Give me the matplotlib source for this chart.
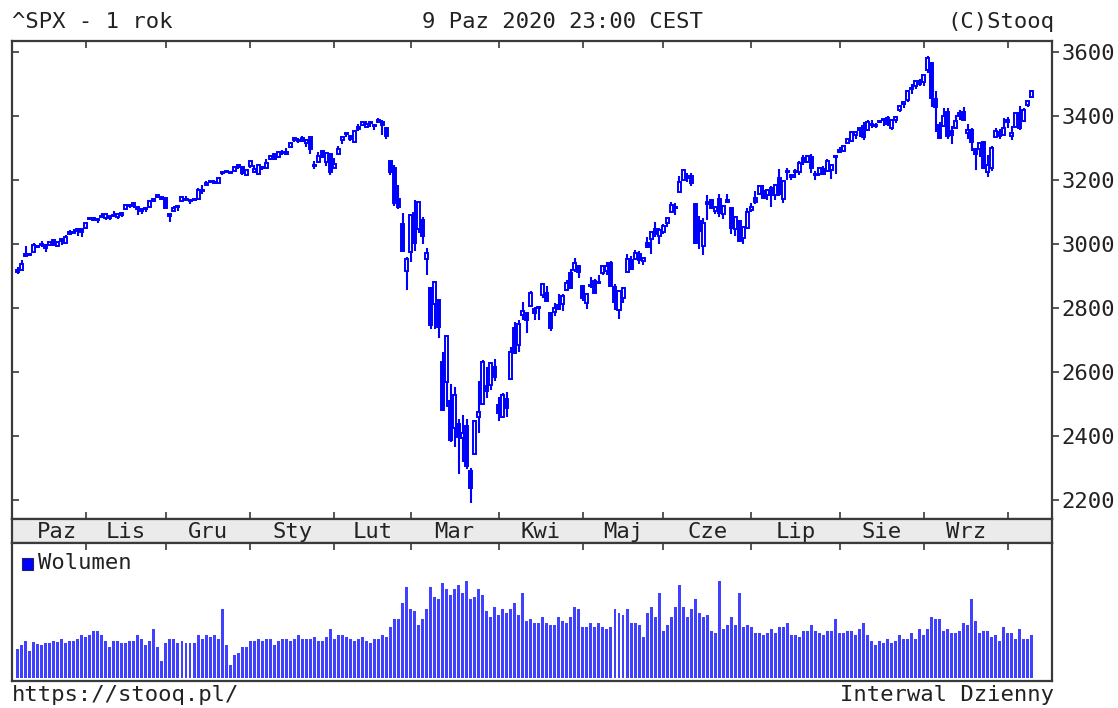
import numpy as np
import pandas as pd
import matplotlib
matplotlib.use("Agg")
import matplotlib.pyplot as plt
from matplotlib.patches import Rectangle

plt.rcParams['font.family'] = ['DejaVu Sans Mono']

# ============================================================
# Data: ^SPX daily candles, 9 Oct 2019 - 9 Oct 2020
# ============================================================
holidays = ['2019-11-28', '2019-12-25', '2020-01-01', '2020-01-20', '2020-02-17',
            '2020-04-10', '2020-05-25', '2020-07-03', '2020-09-07']
dates = pd.bdate_range('2019-10-09', '2020-10-09', freq='C', holidays=holidays)

open_ = [
    # Oct 2019
    2911, 2919, 2963, 2966, 2974, 2990, 3001, 2997, 2997, 3011, 2994, 3015, 3003, 3032, 3035, 3040, 3047,
    # Nov
    3051, 3079, 3081, 3075, 3087, 3081, 3080, 3089, 3084, 3091, 3108, 3118, 3128, 3115, 3109, 3111, 3117, 3135, 3146, 3147,
    # Dec
    3144, 3087, 3104, 3119, 3135, 3142, 3135, 3136, 3141, 3167, 3184, 3195, 3195, 3192, 3223, 3226, 3226, 3227, 3247, 3240, 3215,
    # Jan 2020
    3245, 3226, 3218, 3242, 3239, 3266, 3281, 3271, 3285, 3282, 3303, 3324, 3321, 3330, 3316, 3333, 3247, 3255, 3290, 3257, 3282,
    # Feb
    3236, 3281, 3325, 3345, 3336, 3318, 3366, 3371, 3366, 3378, 3369, 3380, 3381, 3361, 3258, 3239, 3140, 3063, 2917,
    # Mar
    2974, 3097, 3046, 3076, 2954, 2864, 2814, 2826, 2631, 2570, 2509, 2426, 2437, 2394, 2432, 2291, 2344, 2458, 2501, 2556, 2559, 2615,
    # Apr
    2498, 2459, 2515, 2578, 2739, 2685, 2777, 2783, 2805, 2796, 2799, 2842, 2846, 2785, 2788, 2810, 2813, 2855, 2910, 2919, 2931,
    # May
    2869, 2815, 2869, 2883, 2878, 2909, 2916, 2940, 2866, 2795, 2830, 2914, 2949, 2954, 2970, 2948, 3004, 3016, 3047, 3025,
    # Jun
    3039, 3065, 3099, 3112, 3164, 3200, 3213, 3213, 3124, 3071, 2994, 3131, 3136, 3102, 3140, 3094, 3139, 3114, 3047, 3073, 3019, 3050,
    # Jul
    3106, 3144, 3155, 3166, 3153, 3176, 3153, 3205, 3141, 3226, 3208, 3224, 3224, 3269, 3255, 3272, 3219, 3220, 3234, 3227, 3232, 3271,
    # Aug
    3288, 3290, 3317, 3323, 3340, 3356, 3370, 3355, 3373, 3369, 3381, 3387, 3393, 3361, 3386, 3418, 3436, 3450, 3485, 3495, 3510,
    # Sep
    3507, 3544, 3565, 3454, 3372, 3370, 3413, 3353, 3364, 3408, 3411, 3347, 3357, 3296, 3296, 3320, 3226, 3237, 3334, 3351, 3341,
    # Oct 2020
    3386, 3339, 3367, 3409, 3385, 3434, 3460,
]
high = [
    2929, 2949, 2993, 2973, 3003, 2998, 3008, 3000, 3007, 3015, 3005, 3016, 3027, 3044, 3048, 3050, 3047,
    3067, 3085, 3084, 3078, 3098, 3093, 3088, 3103, 3098, 3098, 3121, 3124, 3128, 3119, 3110, 3113, 3134, 3143, 3154, 3150,
    3144, 3095, 3119, 3119, 3151, 3149, 3142, 3144, 3176, 3183, 3198, 3198, 3199, 3206, 3226, 3228, 3226, 3240, 3248, 3241, 3232,
    3258, 3246, 3247, 3245, 3267, 3276, 3283, 3288, 3294, 3299, 3317, 3330, 3330, 3338, 3327, 3333, 3259, 3286, 3294, 3286, 3282,
    3268, 3307, 3338, 3348, 3341, 3352, 3376, 3382, 3385, 3381, 3375, 3394, 3389, 3361, 3260, 3247, 3183, 3097, 2960,
    3091, 3137, 3131, 3083, 2986, 2864, 2883, 2826, 2661, 2711, 2563, 2554, 2454, 2467, 2453, 2301, 2450, 2571, 2637, 2616, 2632, 2641,
    2523, 2533, 2538, 2677, 2757, 2761, 2819, 2783, 2852, 2802, 2807, 2879, 2869, 2786, 2815, 2845, 2843, 2888, 2921, 2955, 2931,
    2869, 2844, 2898, 2891, 2902, 2932, 2944, 2946, 2874, 2853, 2865, 2968, 2964, 2980, 2979, 2957, 3022, 3036, 3069, 3049,
    3062, 3081, 3131, 3129, 3212, 3233, 3223, 3223, 3124, 3088, 3080, 3154, 3141, 3120, 3156, 3121, 3155, 3115, 3086, 3074, 3054, 3112,
    3128, 3166, 3183, 3184, 3172, 3180, 3187, 3235, 3201, 3238, 3220, 3234, 3259, 3277, 3279, 3280, 3227, 3241, 3244, 3265, 3251, 3272,
    3303, 3307, 3331, 3351, 3353, 3363, 3381, 3388, 3387, 3379, 3388, 3395, 3400, 3391, 3400, 3432, 3444, 3481, 3501, 3509, 3515,
    3528, 3588, 3565, 3479, 3380, 3425, 3426, 3369, 3403, 3420, 3429, 3375, 3362, 3300, 3320, 3323, 3279, 3307, 3361, 3358, 3394,
    3397, 3369, 3410, 3432, 3426, 3447, 3482,
]
low = [
    2907, 2917, 2963, 2963, 2974, 2986, 2992, 2976, 2995, 2995, 2991, 2996, 3002, 3032, 3035, 3026, 3023,
    3051, 3075, 3072, 3066, 3080, 3074, 3076, 3085, 3079, 3083, 3105, 3112, 3114, 3091, 3095, 3099, 3117, 3131, 3143, 3139,
    3111, 3070, 3103, 3104, 3135, 3136, 3126, 3133, 3139, 3157, 3184, 3191, 3191, 3192, 3216, 3222, 3221, 3227, 3234, 3217, 3212,
    3236, 3222, 3215, 3232, 3237, 3264, 3261, 3268, 3277, 3281, 3303, 3319, 3317, 3320, 3302, 3282, 3235, 3253, 3272, 3243, 3215,
    3236, 3281, 3314, 3334, 3322, 3318, 3353, 3370, 3361, 3366, 3356, 3379, 3341, 3329, 3215, 3119, 3109, 2977, 2856,
    2945, 2977, 3034, 3000, 2902, 2734, 2734, 2707, 2479, 2492, 2381, 2367, 2281, 2320, 2296, 2192, 2344, 2408, 2501, 2520, 2545, 2571,
    2448, 2456, 2460, 2575, 2658, 2663, 2762, 2721, 2805, 2762, 2764, 2831, 2820, 2727, 2776, 2794, 2792, 2853, 2861, 2912, 2893,
    2822, 2798, 2864, 2848, 2877, 2903, 2903, 2870, 2793, 2767, 2817, 2914, 2922, 2954, 2939, 2934, 2988, 2970, 3023, 2999,
    3032, 3052, 3099, 3090, 3164, 3196, 3193, 3182, 3000, 2985, 2966, 3076, 3108, 3094, 3083, 3079, 3127, 3032, 3024, 3005, 3000, 3048,
    3101, 3125, 3155, 3143, 3137, 3116, 3136, 3149, 3128, 3201, 3199, 3206, 3215, 3248, 3253, 3223, 3200, 3214, 3216, 3227, 3204, 3220,
    3285, 3286, 3317, 3318, 3329, 3335, 3326, 3356, 3363, 3362, 3379, 3370, 3370, 3355, 3379, 3413, 3426, 3444, 3468, 3484, 3493,
    3495, 3535, 3427, 3350, 3329, 3367, 3329, 3311, 3364, 3389, 3385, 3329, 3292, 3230, 3271, 3233, 3210, 3228, 3333, 3328, 3340,
    3361, 3324, 3367, 3355, 3385, 3428, 3458,
]
close = [
    2919, 2938, 2970, 2966, 2996, 2990, 2998, 2986, 3007, 2996, 3005, 3010, 3023, 3039, 3037, 3047, 3038,
    3067, 3078, 3075, 3077, 3085, 3093, 3087, 3092, 3094, 3097, 3121, 3122, 3120, 3109, 3104, 3110, 3134, 3141, 3154, 3141,
    3114, 3093, 3113, 3117, 3146, 3136, 3133, 3142, 3169, 3169, 3192, 3193, 3191, 3205, 3221, 3224, 3223, 3240, 3240, 3221, 3231,
    3258, 3235, 3246, 3237, 3253, 3275, 3265, 3288, 3283, 3289, 3317, 3330, 3321, 3322, 3326, 3296, 3244, 3276, 3273, 3284, 3226,
    3249, 3298, 3335, 3346, 3328, 3352, 3358, 3380, 3374, 3380, 3370, 3386, 3373, 3338, 3226, 3128, 3116, 2979, 2954,
    3090, 3003, 3130, 3024, 2972, 2747, 2882, 2741, 2481, 2711, 2386, 2529, 2398, 2409, 2305, 2237, 2447, 2476, 2630, 2542, 2627, 2585,
    2471, 2527, 2489, 2664, 2659, 2750, 2790, 2762, 2846, 2783, 2800, 2875, 2823, 2737, 2799, 2798, 2837, 2879, 2863, 2940, 2912,
    2831, 2843, 2868, 2848, 2881, 2930, 2930, 2870, 2820, 2853, 2864, 2954, 2923, 2972, 2949, 2955, 2992, 3036, 3030, 3044,
    3056, 3081, 3123, 3112, 3194, 3232, 3207, 3190, 3002, 3041, 3067, 3125, 3114, 3115, 3098, 3118, 3131, 3050, 3084, 3009, 3053, 3100,
    3116, 3130, 3180, 3145, 3170, 3152, 3185, 3155, 3198, 3227, 3216, 3225, 3252, 3257, 3276, 3236, 3216, 3239, 3218, 3258, 3246, 3271,
    3295, 3307, 3328, 3349, 3351, 3361, 3334, 3380, 3373, 3373, 3382, 3390, 3375, 3386, 3397, 3431, 3444, 3479, 3485, 3508, 3500,
    3527, 3581, 3455, 3427, 3332, 3399, 3339, 3341, 3384, 3401, 3386, 3357, 3320, 3281, 3316, 3237, 3247, 3299, 3352, 3336, 3363,
    3381, 3348, 3409, 3361, 3419, 3447, 3477,
]
# volume, bn shares
volume = [
    2.9, 3.3, 3.7, 2.7, 3.6, 3.4, 3.3, 3.5, 3.5, 3.7, 3.6, 3.9, 3.5, 3.7, 3.7, 3.9, 4.3, 4.1, 4.3, 4.7,
    4.7, 4.3, 3.7, 3.1, 3.7, 3.7, 3.5, 3.5, 3.7, 3.7, 4.3, 3.9, 3.3, 3.7, 4.9, 3.1, 1.7, 3.5, 3.9, 3.9,
    3.5, 3.7, 3.5, 3.5, 3.5, 4.3, 3.9, 4.3, 4.1, 4.3, 3.9,
    6.9, 3.3, 1.3, 2.3, 2.5, 3.1, 3.1, 3.7, 3.7, 3.9, 3.7, 3.9, 3.9, 3.3, 3.7, 3.9, 3.9, 3.7, 3.9, 4.3,
    3.9, 3.9, 3.9, 4.1, 3.7, 3.7, 4.1, 4.9, 3.9, 4.3, 4.3, 4.1, 3.9, 3.7, 3.9, 4.1, 3.7, 3.5, 3.9, 3.9,
    4.3, 4.1, 5.1, 5.9, 5.9, 7.5, 9.1, 6.9, 6.7, 5.3,
    5.9, 6.9, 9.1, 8.1, 7.9, 9.5, 8.9, 8.3, 8.9, 9.3, 8.5, 9.7, 7.9, 8.1, 8.9, 8.3, 6.7, 6.1, 7.1, 6.3,
    6.9, 6.5, 6.9, 7.5, 6.3, 8.5, 5.7, 5.9, 5.5, 5.5, 6.1, 5.5, 5.3, 5.3, 6.1, 5.7, 5.5, 6.1, 7.1, 6.9,
    5.1, 5.1, 5.5, 5.1, 5.5, 5.1, 4.9, 5.1, 6.9, 6.5, 6.3, 6.9, 5.5,
    5.5, 5.3, 4.1, 6.5, 7.1, 6.1, 8.5, 4.7, 5.3, 6.1, 7.1, 9.3, 7.1, 6.1, 6.9, 7.9, 6.5, 6.1, 6.3, 4.7,
    4.5, 9.7, 4.9, 5.3, 6.1, 5.3, 8.5, 5.1, 5.3, 5.1, 4.5, 4.5, 4.3, 4.5, 4.9, 4.5, 5.1, 5.1, 5.5, 4.3,
    4.3, 4.1, 4.7, 4.7, 5.3, 4.7, 4.5, 4.3, 4.7, 4.7,
    5.9, 4.5, 4.5, 4.7, 4.7, 4.3, 4.9, 5.5, 4.3, 3.7, 3.3, 3.7, 3.5, 3.9, 3.5, 3.7, 4.3, 3.9, 3.9, 4.5,
    3.9, 4.9, 4.3, 4.9, 6.1, 5.9, 5.9, 4.7, 4.9, 4.5, 4.5, 4.7, 5.5, 5.3, 7.9, 5.7, 4.5, 4.7, 4.7, 4.1,
    4.3, 3.7, 5.1, 4.5, 4.5, 3.9, 4.9, 3.9, 3.9, 4.3,
]
month_names = ['Paz', 'Lis', 'Gru', 'Sty', 'Lut', 'Mar', 'Kwi', 'Maj', 'Cze', 'Lip', 'Sie', 'Wrz']
price_ticks = [2200, 2400, 2600, 2800, 3000, 3200, 3400, 3600]

o = np.array(open_, float); h = np.array(high, float)
l = np.array(low, float); c = np.array(close, float)
v = np.array(volume, float)
x = np.arange(len(c))

# index of first trading day of each month (tick positions)
per = dates.to_period('M')
month_starts = [i for i in range(1, len(per)) if per[i] != per[i - 1]]

# ============================================================
# Figure layout (pixel-matched panels)
# ============================================================
W, H = 1118, 708
fig = plt.figure(figsize=(W / 100, H / 100), dpi=100)
fig.patch.set_facecolor('white')

def px_axes(x0, y0, x1, y1):
    return fig.add_axes([x0 / W, 1 - y1 / H, (x1 - x0) / W, (y1 - y0) / H])

ax = px_axes(12, 41, 1052, 519)
ax_band = px_axes(12, 519, 1052, 543)
ax_vol = px_axes(12, 543, 1052, 681)

BLUE = '#0000ff'
FRAME = '#3a3a3a'
TXT = '#222222'
XLIM = (-1.4, 258.0)
FS = 16

for a in (ax, ax_band, ax_vol):
    a.set_xlim(XLIM)
    for s in a.spines.values():
        s.set_color(FRAME)
        s.set_linewidth(1.6)

# ------------------------------------------------------------
# Candles: hollow = up day, filled = down day
# ------------------------------------------------------------
up = c >= o
ax.vlines(x, l, h, color=BLUE, linewidth=1.5, zorder=2)
body_lo = np.minimum(o, c)
body_h = np.maximum(np.abs(c - o), 3.0)
ax.bar(x[up], body_h[up], bottom=body_lo[up], width=0.75,
       facecolor='white', edgecolor=BLUE, linewidth=1.4, zorder=3)
ax.bar(x[~up], body_h[~up], bottom=body_lo[~up], width=0.75,
       facecolor=BLUE, edgecolor=BLUE, linewidth=1.4, zorder=3)

ax.set_ylim(2140.6, 3634.4)
ax.set_xticks(month_starts)
ax.tick_params(axis='x', direction='in', top=True, bottom=True,
               labelbottom=False, length=5, width=1.2, color=FRAME)
ax.set_yticks(price_ticks)
ax.tick_params(axis='y', direction='in', left=True, right=False,
               labelleft=False, length=5, width=1.2, color=FRAME)
sec = ax.secondary_yaxis('right')
sec.set_yticks(price_ticks)
sec.tick_params(axis='y', direction='out', length=5, width=1.2, color=FRAME,
                labelsize=FS, pad=2, labelcolor=TXT)
sec.spines['right'].set_visible(False)

# ------------------------------------------------------------
# Month band
# ------------------------------------------------------------
ax_band.set_facecolor('#ebebeb')
ax_band.set_ylim(0, 1)
ax_band.set_xticks([]); ax_band.set_yticks([])
edges = [2.6] + month_starts
for i, name in enumerate(month_names):
    ax_band.text((edges[i] + edges[i + 1]) / 2, 0.45, name, ha='center', va='center',
                 fontsize=FS, color=TXT)

# ------------------------------------------------------------
# Volume
# ------------------------------------------------------------
ax_vol.bar(x, v, width=0.74, color='#4040ff', linewidth=0)
ax_vol.set_ylim(-0.25, 13.5)
ax_vol.set_xticks(month_starts)
ax_vol.tick_params(axis='x', direction='in', top=True, bottom=False,
                   labelbottom=False, length=5, width=1.2, color=FRAME)
ax_vol.set_yticks([])
fig.patches.append(Rectangle((22 / W, 1 - 570 / H), 11 / W, 12 / H, transform=fig.transFigure,
                             facecolor=BLUE, edgecolor='#222266', linewidth=0.8))
fig.text(38 / W, 1 - 563 / H, 'Wolumen', ha='left', va='center', fontsize=FS, color=TXT)

# ------------------------------------------------------------
# Header / footer
# ------------------------------------------------------------
fig.text(12 / W, 1 - 22 / H, '^SPX - 1 rok', ha='left', va='center', fontsize=FS, color=TXT)
fig.text(562 / W, 1 - 22 / H, '9 Paz 2020 23:00 CEST', ha='center', va='center',
         fontsize=FS, color=TXT)
fig.text(1054 / W, 1 - 22 / H, '(C)Stooq', ha='right', va='center', fontsize=FS, color=TXT)
fig.text(12 / W, 1 - 695 / H, 'https://stooq.pl/', ha='left', va='center', fontsize=FS, color=TXT)
fig.text(1054 / W, 1 - 695 / H, 'Interwal Dzienny', ha='right', va='center', fontsize=FS, color=TXT)

plt.savefig('out.png', dpi=100)
plt.close()
